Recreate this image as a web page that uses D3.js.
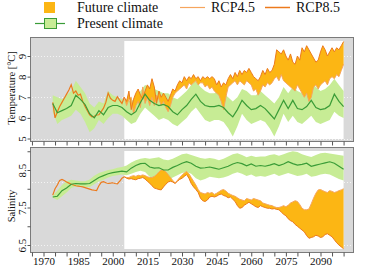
<!DOCTYPE html>
<html>
<head>
<meta charset="utf-8" />
<script src="https://d3js.org/d3.v7.min.js"></script>
<style>
  body { margin: 0; background: #fff; }
  text { font-family: "Liberation Serif", "Times New Roman", serif; fill: #111; }
</style>
</head>
<body>
<svg id="viz"></svg>
<script>
// years
var yrHind = d3.range(1974, 2006);      // model hindcast
var yrFut = d3.range(2005, 2101);       // scenario runs
var yrPres = d3.range(1974, 2101, 2);   // present climate (2-yearly)

// temperature [°C]
var tempHind = [6.75, 6.0, 6.3, 6.55, 6.75, 6.95, 7.15, 7.35, 7.6, 7.2, 7.3, 7.1, 7.15, 6.8, 6.55, 6.35,
  6.15, 6.05, 6.08, 6.14, 6.15, 6.3, 6.47, 6.75, 7.2, 6.95, 6.85, 6.8, 7.03, 6.85, 6.7, 7.0];
var tempPres = [6.7, 6.25, 6.35, 6.45, 6.6, 7.1, 6.9, 6.65, 6.2, 6.0, 6.35, 6.15, 6.5, 6.6, 6.6, 6.5,
  6.3, 6.15, 6.3, 6.75, 7.15, 6.85, 6.7, 6.6, 6.65, 6.55,
  6.3, 6.15, 6.4, 6.6, 6.9, 7.15, 6.8, 6.6, 6.55, 6.55,
  6.6, 6.5, 6.25, 6.05, 6.4, 6.85, 6.6, 6.4, 6.45, 6.6,
  6.45, 6.2, 5.95, 6.4, 6.85, 6.45, 6.85, 6.45, 6.4, 6.55,
  6.85, 6.5, 6.4, 6.45, 6.6, 7.15, 6.8, 6.55];
var tempPresHi = [7.1, 7.0, 6.9, 7.1, 7.3, 7.8, 7.5, 7.2, 6.7, 6.5, 6.8, 6.7, 7.3, 7.1, 7.0, 6.9,
  6.9, 6.8, 7.0, 7.3, 7.6, 7.5, 7.4, 7.3, 7.2, 7.2,
  7.0, 6.9, 7.1, 7.3, 7.6, 7.8, 7.5, 7.3, 7.2, 7.2,
  7.3, 7.2, 7.0, 6.8, 7.0, 7.4, 7.3, 7.1, 7.1, 7.3,
  7.1, 6.9, 6.7, 7.0, 7.5, 7.2, 7.5, 7.3, 7.2, 7.4,
  7.7, 7.5, 7.3, 7.4, 7.6, 7.9, 7.6, 7.3];
var tempPresLo = [6.3, 5.7, 5.9, 6.0, 6.1, 6.4, 6.2, 5.8, 5.3, 5.5, 5.9, 5.7, 6.0, 6.2, 6.2, 6.1,
  5.9, 5.7, 5.8, 6.2, 6.5, 6.3, 6.1, 5.9, 6.0, 5.9,
  5.7, 5.6, 5.8, 6.0, 6.3, 6.5, 6.2, 5.9, 5.8, 5.9,
  5.9, 5.8, 5.5, 5.1, 5.6, 6.2, 5.9, 5.7, 5.8, 5.9,
  5.8, 5.5, 5.1, 5.6, 6.2, 5.8, 6.1, 5.8, 5.7, 5.9,
  6.1, 5.8, 5.7, 5.8, 5.9, 6.3, 6.1, 6.0];
var tempRcp85 = [7.0,
  6.8, 7.3, 6.4, 6.9, 7.2, 7.4, 7.1, 6.9, 7.3, 7.6, 7.4, 7.9, 7.5, 6.7, 7.3,
  7.0, 7.2, 7.0, 6.8, 7.1, 7.4, 7.3, 7.6, 7.8, 7.7, 8.0, 7.8, 8.0, 7.9, 8.1,
  7.9, 8.0, 7.8, 8.0, 7.9, 8.0, 7.9, 8.0, 7.9, 7.6, 7.8, 7.5, 7.7, 7.6, 7.9,
  8.1, 7.9, 8.2, 8.0, 8.3, 8.1, 8.3, 8.2, 8.4, 8.2, 8.0, 7.9, 7.8, 8.0, 8.3,
  8.1, 8.4, 8.2, 8.3, 8.6, 9.3, 9.2, 9.1, 9.3, 9.0, 8.8, 9.1, 8.7, 8.6, 9.0,
  8.8, 9.4, 9.2, 9.5, 9.3, 9.1, 8.9, 8.7, 8.8, 9.2, 9.5, 9.3, 9.0, 9.2, 9.4,
  9.2, 9.4, 9.3, 9.5, 9.7];
var tempRcp45 = [7.0,
  6.6, 6.9, 7.0, 6.2, 6.6, 6.8, 6.5, 7.5, 6.7, 7.0, 6.6, 7.0, 6.6, 7.1, 6.9,
  6.6, 6.8, 6.5, 6.3, 6.6, 7.0, 7.2, 7.3, 7.4, 7.5, 7.6, 7.4, 7.7, 7.6, 7.7,
  7.8, 7.6, 7.7, 7.7, 7.5, 7.6, 7.4, 7.5, 7.3, 7.2, 7.1, 6.8, 6.4, 7.0, 7.5,
  7.6, 7.7, 7.8, 7.6, 7.8, 7.7, 7.6, 7.8, 7.7, 7.6, 7.3, 7.4, 7.1, 7.3, 7.6,
  7.5, 7.7, 7.6, 7.7, 7.9, 8.0, 7.8, 8.1, 7.8, 7.7, 7.6, 7.5, 7.4, 7.3, 7.6,
  7.4, 7.2, 7.0, 7.2, 6.8, 7.0, 7.5, 7.6, 7.4, 7.6, 7.7, 7.8, 7.6, 7.9, 8.0,
  7.9, 8.1, 8.0, 8.3, 8.6];

// salinity
var salHind = [7.83, 8.0, 8.1, 8.22, 8.25, 8.22, 8.18, 8.15, 8.12, 8.1, 8.08, 8.07, 8.06, 8.05, 8.03, 8.01,
  7.99, 7.97, 7.96, 7.95, 8.08, 8.17, 8.19, 8.16, 8.14, 8.15, 8.16, 8.14, 8.13, 8.2, 8.28, 8.32];
var salPres = [7.78, 7.8, 7.95, 8.02, 8.12, 8.14, 8.13, 8.13, 8.14, 8.22, 8.3, 8.35, 8.4, 8.43, 8.45, 8.47,
  8.45, 8.55, 8.62, 8.67, 8.68, 8.58, 8.55, 8.56, 8.5, 8.5,
  8.57, 8.62, 8.68, 8.72, 8.68, 8.6, 8.55, 8.56, 8.58, 8.55,
  8.52, 8.56, 8.6, 8.66, 8.7, 8.67, 8.61, 8.66, 8.6, 8.62,
  8.6, 8.63, 8.67, 8.62, 8.66, 8.72, 8.67, 8.63, 8.65, 8.68,
  8.6, 8.63, 8.66, 8.69, 8.72, 8.68, 8.6, 8.52];
var salPresHi = [7.82, 7.95, 8.1, 8.2, 8.24, 8.22, 8.2, 8.2, 8.25, 8.35, 8.42, 8.46, 8.5, 8.52, 8.56, 8.58,
  8.62, 8.7, 8.76, 8.8, 8.82, 8.8, 8.82, 8.84, 8.78, 8.76,
  8.8, 8.86, 8.92, 8.94, 8.9, 8.86, 8.82, 8.8, 8.82, 8.8,
  8.76, 8.8, 8.86, 8.92, 8.95, 8.9, 8.84, 8.88, 8.85, 8.86,
  8.86, 8.9, 8.92, 8.88, 8.92, 8.97, 9.0, 8.98, 8.92, 8.88,
  8.85, 8.9, 8.95, 8.96, 8.94, 8.92, 8.9, 8.88];
var salPresLo = [7.76, 7.7, 7.8, 7.9, 8.02, 8.06, 8.06, 8.05, 8.05, 8.12, 8.2, 8.24, 8.3, 8.34, 8.36, 8.38,
  8.36, 8.4, 8.45, 8.48, 8.45, 8.32, 8.28, 8.3, 8.25, 8.24,
  8.3, 8.36, 8.42, 8.45, 8.4, 8.28, 8.22, 8.26, 8.32, 8.3,
  8.28, 8.3, 8.34, 8.4, 8.44, 8.4, 8.34, 8.38, 8.32, 8.34,
  8.32, 8.36, 8.4, 8.34, 8.38, 8.42, 8.38, 8.34, 8.36, 8.4,
  8.32, 8.34, 8.38, 8.4, 8.38, 8.32, 8.26, 8.22];
var salRcp45 = [8.32,
  8.3, 8.3, 8.33, 8.35, 8.33, 8.36, 8.35, 8.37, 8.35, 8.32,
  8.3, 8.3, 8.33, 8.38, 8.45, 8.5, 8.5, 8.45, 8.38, 8.3,
  8.22, 8.16, 8.22, 8.3, 8.36, 8.42, 8.46, 8.4, 8.3, 8.2,
  8.1, 7.98, 7.9, 7.88, 7.86, 7.9, 7.88, 7.9, 7.85, 7.88,
  7.92, 7.96, 7.98, 7.94, 7.88, 7.85, 7.82, 7.8, 7.76, 7.72,
  7.7, 7.68, 7.74, 7.72, 7.7, 7.74, 7.72, 7.7, 7.68, 7.62,
  7.6, 7.58, 7.56, 7.55, 7.52, 7.5, 7.5, 7.52, 7.55, 7.52,
  7.56, 7.62, 7.65, 7.68, 7.66, 7.58, 7.48, 7.44, 7.44, 7.46,
  7.6, 7.75, 7.88, 7.97, 7.98, 7.95, 7.92, 7.9, 7.95, 7.93,
  7.9, 7.92, 7.95, 7.97, 8.0];
var salRcp85 = [8.32,
  8.28, 8.26, 8.27, 8.25, 8.24, 8.27, 8.28, 8.3, 8.26, 8.2,
  8.15, 8.08, 8.02, 8.0, 7.98, 7.97, 8.05, 8.12, 8.18, 8.2,
  8.18, 8.14, 8.2, 8.25, 8.28, 8.33, 8.38, 8.28, 8.14, 8.05,
  7.98, 7.9, 7.75, 7.68, 7.66, 7.7, 7.78, 7.8, 7.78, 7.8,
  7.84, 7.86, 7.82, 7.8, 7.76, 7.78, 7.72, 7.66, 7.55, 7.48,
  7.5, 7.56, 7.6, 7.64, 7.6, 7.56, 7.52, 7.5, 7.55, 7.52,
  7.5, 7.48, 7.48, 7.46, 7.47, 7.45, 7.44, 7.38, 7.32, 7.28,
  7.2, 7.15, 7.12, 7.05, 7.0, 6.95, 6.9, 6.85, 6.75, 6.68,
  6.7, 6.72, 6.76, 6.74, 6.7, 6.72, 6.78, 6.8, 6.76, 6.72,
  6.64, 6.56, 6.5, 6.45, 6.4];

var xTicks = d3.range(1965, 2101, 5);
var xLabels = [1970, 1985, 2000, 2015, 2030, 2045, 2060, 2075, 2090];

var width = 387, height = 266;
var svg = d3.select("#viz").attr("width", width).attr("height", height);

var cFut = "#fcb614", c45 = "#f6a55d", c85 = "#ec7a1c";
var cPres = "#c7ec95", cPresLine = "#3a9c37";

var x = d3.scaleLinear().domain([1970, 2090]).range([43.5, 320.5]);

var panels = [
  { top: 37, bottom: 141, inTop: 41, inBot: 139,
    y: d3.scaleLinear().domain([5, 9]).range([138.5, 56]),
    ticks: [5, 6, 7, 8, 9], labels: [5, 6, 7, 8, 9], grid: [5, 7, 9],
    title: "Temperature [\u00b0C]", titleY: 88,
    hind: tempHind, pres: tempPres, hi: tempPresHi, lo: tempPresLo, r45: tempRcp45, r85: tempRcp85, xLab: false },
  { top: 147, bottom: 252, inTop: 151, inBot: 249,
    y: d3.scaleLinear().domain([6.5, 8.5]).range([245, 170]),
    ticks: [6.5, 7, 7.5, 8, 8.5, 9], labels: [6.5, 7.5, 8.5], grid: [6.5, 8.18],
    title: "Salinity", titleY: 206,
    hind: salHind, pres: salPres, hi: salPresHi, lo: salPresLo, r45: salRcp45, r85: salRcp85, xLab: true }
];

panels.forEach(function(p, i) {
  var g = svg.append("g");
  var y = p.y;
  var clipId = "clip" + i;
  svg.append("clipPath").attr("id", clipId).append("rect")
    .attr("x", 31).attr("y", p.top + 1).attr("width", 322).attr("height", p.bottom - p.top - 2);

  g.append("rect")
    .attr("x", 30.5).attr("y", p.top + 0.5)
    .attr("width", 323).attr("height", p.bottom - p.top)
    .attr("fill", "#d9d9d9").attr("stroke", "#7a7a7a");

  g.selectAll(".grid").data(p.grid).enter().append("line")
    .attr("x1", 32).attr("x2", 352)
    .attr("y1", function(d) { return Math.round(y(d)) + 0.5; })
    .attr("y2", function(d) { return Math.round(y(d)) + 0.5; })
    .attr("stroke", "#f4f4f4").attr("stroke-dasharray", "1,2");

  g.append("rect")
    .attr("x", x(2005)).attr("y", p.inTop)
    .attr("width", x(2100) - x(2005)).attr("height", p.inBot - p.inTop)
    .attr("fill", "#fff");

  var plot = g.append("g").attr("clip-path", "url(#" + clipId + ")");

  // present climate band
  plot.append("path")
    .datum(yrPres)
    .attr("fill", cPres)
    .attr("d", d3.area()
      .x(function(d) { return x(d); })
      .y0(function(d, j) { return y(p.lo[j]); })
      .y1(function(d, j) { return y(p.hi[j]); }));

  // future climate band
  plot.append("path")
    .datum(yrFut)
    .attr("fill", cFut)
    .attr("d", d3.area()
      .x(function(d) { return x(d); })
      .y0(function(d, j) { return y(p.r45[j]); })
      .y1(function(d, j) { return y(p.r85[j]); }));

  var line = function(vals) {
    return d3.line().x(function(d) { return x(d); }).y(function(d, j) { return y(vals[j]); });
  };

  plot.append("path").datum(yrHind)
    .attr("fill", "none").attr("stroke", c85).attr("stroke-width", 1.2)
    .attr("d", line(p.hind));
  plot.append("path").datum(yrFut)
    .attr("fill", "none").attr("stroke", c45).attr("stroke-width", 1)
    .attr("d", line(p.r45));
  plot.append("path").datum(yrFut)
    .attr("fill", "none").attr("stroke", c85).attr("stroke-width", 1)
    .attr("d", line(p.r85));
  plot.append("path").datum(yrPres)
    .attr("fill", "none").attr("stroke", cPresLine).attr("stroke-width", 1.2)
    .attr("d", line(p.pres));

  // y axis
  var yAxis = d3.axisLeft(y).tickValues(p.ticks).tickSize(3)
    .tickFormat(function(d) { return p.labels.indexOf(d) >= 0 ? d3.format("")(d) : ""; });
  var ya = g.append("g").attr("transform", "translate(30.5,0)").call(yAxis);
  ya.select(".domain").remove();
  ya.attr("font-family", null);
  ya.selectAll("line").attr("stroke", "#555");
  ya.selectAll("text")
    .attr("transform", "rotate(-90)")
    .attr("x", 0).attr("y", -5).attr("dy", 0)
    .style("text-anchor", "middle")
    .style("font-size", "11px");

  g.append("text")
    .attr("transform", "translate(15," + p.titleY + ") rotate(-90)")
    .attr("text-anchor", "middle")
    .style("font-size", "10.5px")
    .text(p.title);

  // x axis ticks under each panel
  var xAxis = d3.axisBottom(x).tickValues(xTicks).tickSize(4)
    .tickFormat(function(d) { return p.xLab && xLabels.indexOf(d) >= 0 ? d : ""; });
  var xa = g.append("g").attr("transform", "translate(0," + (p.bottom + 0.5) + ")").call(xAxis);
  xa.select(".domain").remove();
  xa.attr("font-family", null);
  xa.selectAll("line").attr("stroke", "#555");
  xa.selectAll("text").attr("y", 5)
    .style("font-size", "11px");
});

// legend
var lg = svg.append("g").style("font-size", "14px");
lg.append("rect").attr("x", 44).attr("y", 2).attr("width", 11).attr("height", 11).attr("fill", cFut);
lg.append("text").attr("x", 77).attr("y", 12).text("Future climate");
lg.append("line").attr("x1", 35).attr("x2", 65).attr("y1", 23.5).attr("y2", 23.5)
  .attr("stroke", cPresLine).attr("stroke-width", 1.2);
lg.append("rect").attr("x", 44.5).attr("y", 18.5).attr("width", 12).attr("height", 10)
  .attr("fill", cPres).attr("stroke", cPresLine);
lg.append("text").attr("x", 77).attr("y", 28).text("Present climate");
lg.append("line").attr("x1", 180).attr("x2", 205).attr("y1", 7.5).attr("y2", 7.5)
  .attr("stroke", c45).attr("stroke-width", 1.2);
lg.append("text").attr("x", 211).attr("y", 12).text("RCP4.5");
lg.append("line").attr("x1", 265).attr("x2", 290).attr("y1", 7.5).attr("y2", 7.5)
  .attr("stroke", c85).attr("stroke-width", 1.5);
lg.append("text").attr("x", 296).attr("y", 12).text("RCP8.5");
</script>
</body>
</html>
